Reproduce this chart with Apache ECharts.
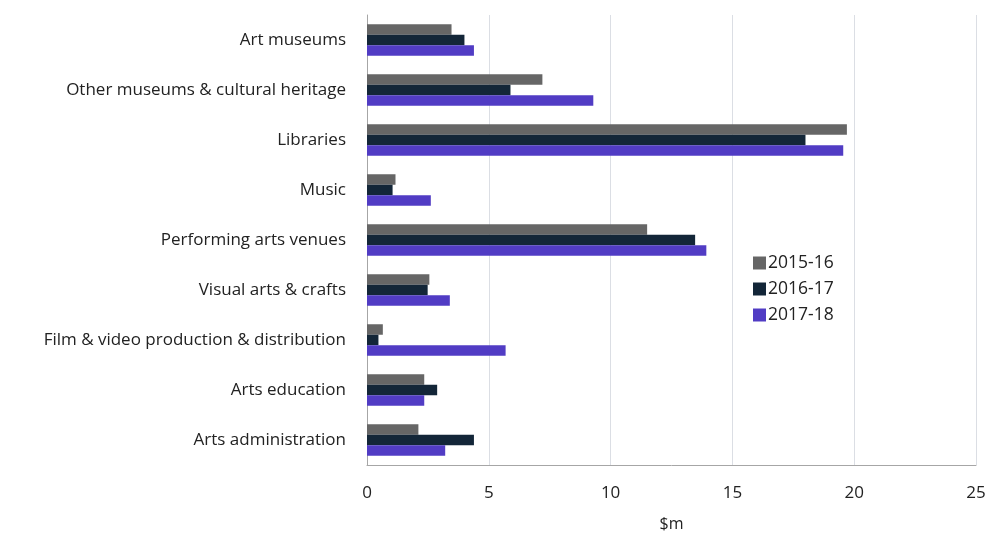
<!DOCTYPE html>
<html><head><meta charset="utf-8">
<script src="https://cdn.jsdelivr.net/npm/echarts@6/dist/echarts.min.js"></script>
<style>html,body{margin:0;padding:0;background:#fff}#c{width:988px;height:534px}</style>
</head><body><div id="c"></div>
<script>
const categories = ["Art museums","Other museums & cultural heritage","Libraries","Music","Performing arts venues","Visual arts & crafts","Film & video production & distribution","Arts education","Arts administration"];
const s2015 = [3.47,7.2,19.7,1.17,11.5,2.56,0.65,2.35,2.11];
const s2016 = [4.0,5.89,18.0,1.05,13.47,2.49,0.47,2.88,4.39];
const s2017 = [4.39,9.29,19.55,2.62,13.93,3.4,5.69,2.35,3.21];
const seriesNames = ["2015-16","2016-17","2017-18"];
const xTicks = {min:0,max:25,interval:5};
const colors = ["#666666","#132638","#513cc4"];
const font = "Open Sans";
const chart = echarts.init(document.getElementById('c'));
chart.setOption({
  animation:false,
  color:colors,
  grid:{left:367,right:12,top:15,bottom:69,containLabel:false,outerBoundsMode:'none'},
  legend:{orient:'vertical',left:748,top:249,itemWidth:13,itemHeight:13,itemGap:8,icon:'rect',
    textStyle:{fontFamily:font,fontSize:17.5,color:'#222',padding:[0,0,0,-3]},data:seriesNames},
  xAxis:{type:'value',min:xTicks.min,max:xTicks.max,interval:xTicks.interval,
    name:'$m',nameLocation:'middle',nameGap:51,nameTextStyle:{fontFamily:font,fontSize:16,color:'#222'},
    axisLine:{show:true,lineStyle:{color:'#a6a6a6'}},axisTick:{show:false},
    axisLabel:{fontFamily:font,fontSize:17,color:'#222',margin:20}},
  yAxis:{type:'category',data:categories,inverse:true,
    axisLine:{show:true,lineStyle:{color:'#a6a6a6'}},axisTick:{show:false},
    axisLabel:{fontFamily:font,fontSize:17,color:'#222',margin:21}},
  series:[
    {name:seriesNames[0],type:'bar',data:s2015,barGap:'0%',barCategoryGap:'37%'},
    {name:seriesNames[1],type:'bar',data:s2016,barGap:'0%',barCategoryGap:'37%'},
    {name:seriesNames[2],type:'bar',data:s2017,barGap:'0%',barCategoryGap:'37%'}
  ]
});
</script></body></html>
